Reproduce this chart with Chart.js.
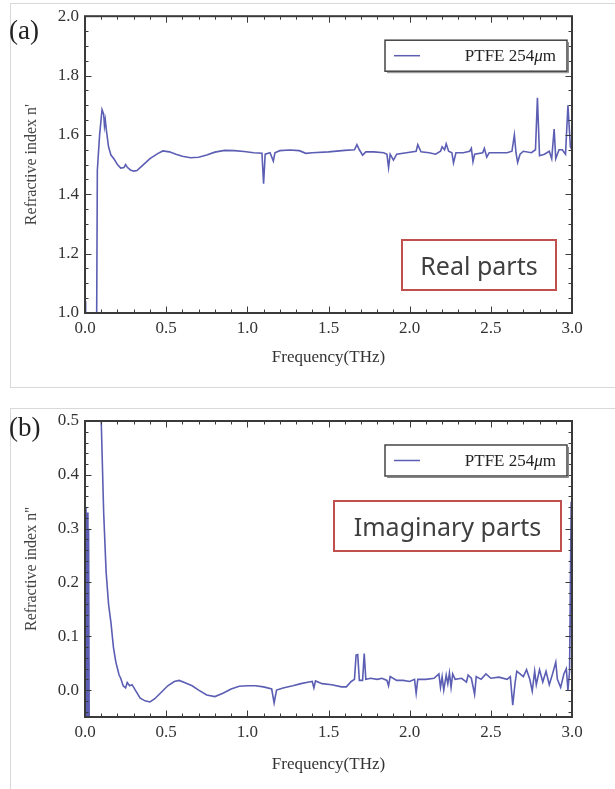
<!DOCTYPE html>
<html>
<head>
<meta charset="utf-8">
<script src="https://cdn.jsdelivr.net/npm/chart.js@4.4.1/dist/chart.umd.min.js"></script>
<style>
  body { margin: 0; background: #fff; width: 615px; height: 789px; position: relative; overflow: hidden; font-family: "Liberation Serif", serif; }
  .panel { position: absolute; border: 1px solid #d9d9d9; }
  .tag { position: absolute; left: 9px; font-size: 27px; line-height: 27px; color: #222; }
  .note { position: absolute; box-sizing: border-box; border: 2px solid #c0504d; font-family: "Noto Sans", sans-serif; font-size: 25px; color: #3f3f3f; display: flex; align-items: center; justify-content: center; }
  canvas { position: absolute; left: 0; }
</style>
</head>
<body>
<div class="panel" style="left:10px; top:3px; width:640px; height:383px;"></div>
<div class="panel" style="left:10px; top:408px; width:640px; height:400px;"></div>

<canvas id="chartA" width="615" height="390" style="top:0px;"></canvas>
<canvas id="chartB" width="615" height="394" style="top:395px;"></canvas>

<div class="tag" style="top:17px;">(a)</div>
<div class="tag" style="top:414px;">(b)</div>
<div class="note" style="left:401px; top:239px; width:156px; height:52px;">Real parts</div>
<div class="note" style="left:333px; top:500px; width:229px; height:52px;">Imaginary parts</div>

<script>
// (a) real part n'
const freqA = [
  0.000, 0.004, 0.066, 0.072, 0.076, 0.090, 0.105, 0.115, 0.120, 0.125, 0.132, 0.145,
  0.160, 0.180, 0.200, 0.220, 0.240, 0.250, 0.262, 0.280, 0.300, 0.320, 0.350, 0.400,
  0.450, 0.480, 0.520, 0.560, 0.600, 0.650, 0.700, 0.750, 0.800, 0.860, 0.920, 0.980,
  1.040, 1.090, 1.100, 1.110, 1.140, 1.160, 1.170, 1.200, 1.260, 1.320, 1.360, 1.400,
  1.500, 1.600, 1.660, 1.675, 1.690, 1.710, 1.730, 1.780, 1.840, 1.860, 1.870, 1.880,
  1.900, 1.920, 1.980, 2.040, 2.050, 2.070, 2.120, 2.160, 2.190, 2.200, 2.215, 2.225,
  2.240, 2.260, 2.270, 2.285, 2.330, 2.370, 2.380, 2.390, 2.400, 2.450, 2.460, 2.475,
  2.490, 2.550, 2.600, 2.630, 2.645, 2.655, 2.665, 2.680, 2.700, 2.750, 2.775, 2.787,
  2.800, 2.830, 2.860, 2.875, 2.890, 2.900, 2.920, 2.940, 2.960, 2.975, 2.990, 3.000
];
const nReal = [
  1.040, 0.500, 0.500, 1.000, 1.480, 1.600, 1.685, 1.670, 1.630, 1.650, 1.615, 1.560,
  1.532, 1.518, 1.500, 1.488, 1.490, 1.500, 1.490, 1.482, 1.478, 1.480, 1.495, 1.520,
  1.538, 1.546, 1.543, 1.535, 1.528, 1.523, 1.525, 1.532, 1.542, 1.548, 1.547, 1.544,
  1.540, 1.538, 1.436, 1.535, 1.540, 1.512, 1.540, 1.547, 1.549, 1.547, 1.538, 1.540,
  1.543, 1.548, 1.550, 1.567, 1.550, 1.532, 1.543, 1.543, 1.540, 1.535, 1.490, 1.535,
  1.515, 1.535, 1.540, 1.545, 1.567, 1.543, 1.540, 1.535, 1.545, 1.560, 1.550, 1.570,
  1.545, 1.540, 1.506, 1.540, 1.540, 1.545, 1.555, 1.510, 1.535, 1.540, 1.555, 1.525,
  1.540, 1.540, 1.540, 1.545, 1.600, 1.540, 1.507, 1.535, 1.545, 1.540, 1.550, 1.725,
  1.530, 1.535, 1.545, 1.520, 1.620, 1.520, 1.550, 1.550, 1.535, 1.700, 1.560, 1.550
];

// (b) imaginary part n'' (null = gap in the measured trace)
const freqB = [
  0.000, 0.006, 0.010, 0.014, 0.018, 0.022, 0.026, 0.030, 0.096, 0.100, 0.115,
  0.130, 0.145, 0.160, 0.175, 0.190, 0.200, 0.210, 0.220, 0.235, 0.250, 0.260, 0.275,
  0.290, 0.310, 0.340, 0.370, 0.400, 0.430, 0.470, 0.510, 0.550, 0.580, 0.620, 0.660,
  0.700, 0.750, 0.800, 0.850, 0.900, 0.950, 1.000, 1.050, 1.100, 1.150, 1.165, 1.180,
  1.220, 1.280, 1.330, 1.380, 1.400, 1.410, 1.420, 1.460, 1.520, 1.580, 1.610, 1.640,
  1.660, 1.670, 1.680, 1.690, 1.710, 1.720, 1.730, 1.760, 1.800, 1.830, 1.860, 1.870,
  1.880, 1.920, 1.960, 2.000, 2.030, 2.040, 2.050, 2.100, 2.150, 2.180, 2.190, 2.200,
  2.210, 2.225, 2.235, 2.245, 2.255, 2.265, 2.280, 2.320, 2.350, 2.360, 2.380, 2.400,
  2.410, 2.440, 2.470, 2.500, 2.550, 2.600, 2.620, 2.635, 2.650, 2.660, 2.680, 2.700,
  2.720, 2.740, 2.755, 2.770, 2.780, 2.800, 2.820, 2.840, 2.860, 2.880, 2.900, 2.910,
  2.930, 2.950, 2.965, 2.975, 2.985, 2.995, 3.000
];
const nImag = [
  -0.100, 0.340, -0.100, 0.330, -0.100, 0.300, -0.080, null, 0.900, 0.500, 0.330,
  0.220, 0.160, 0.125, 0.080, 0.052, 0.040, 0.028, 0.022, 0.008, 0.004, 0.014, 0.008,
  0.010, 0.000, -0.015, -0.020, -0.022, -0.016, -0.004, 0.008, 0.016, 0.018, 0.013, 0.008,
  0.000, -0.009, -0.012, -0.006, 0.002, 0.007, 0.008, 0.008, 0.006, 0.002, -0.024, 0.000,
  0.004, 0.008, 0.012, 0.015, 0.016, 0.004, 0.017, 0.012, 0.010, 0.006, 0.006, 0.016,
  0.020, 0.065, 0.066, 0.018, 0.018, 0.068, 0.020, 0.022, 0.020, 0.022, 0.018, 0.008,
  0.025, 0.018, 0.018, 0.016, 0.020, -0.006, 0.020, 0.020, 0.022, 0.030, 0.005, 0.025,
  0.000, 0.028, 0.012, 0.032, 0.005, 0.030, 0.020, 0.022, 0.015, 0.028, 0.022, -0.008,
  0.025, 0.020, 0.030, 0.022, 0.024, 0.020, 0.025, -0.028, 0.015, 0.035, 0.030, 0.025,
  0.038, 0.020, -0.002, 0.035, 0.010, 0.038, 0.015, 0.035, 0.010, 0.030, 0.052, 0.020,
  0.005, 0.030, 0.040, 0.000, 0.035, 0.350, -0.040
];

const xTicks = [0.0, 0.5, 1.0, 1.5, 2.0, 2.5, 3.0];
const yTicksA = [1.0, 1.2, 1.4, 1.6, 1.8, 2.0];
const yTicksB = [0.0, 0.1, 0.2, 0.3, 0.4, 0.5];
const seriesLabel = "PTFE 254μm";
const lineColor = "#5b5eb3";
const serif = "Liberation Serif";

// frame with inward ticks on all four sides + legend box, like Mathematica
const frameTicks = {
  id: "frameTicks",
  afterDatasetsDraw(chart, args, opts) {
    const { ctx, chartArea: a } = chart;
    const xs = chart.scales.x, ys = chart.scales.y;
    ctx.save();
    ctx.strokeStyle = "#3a3a3a";
    ctx.lineWidth = 1;
    const seg = (x1, y1, x2, y2) => {
      ctx.beginPath(); ctx.moveTo(x1, y1); ctx.lineTo(x2, y2); ctx.stroke();
    };
    const markX = (v, len) => {
      const px = Math.round(xs.getPixelForValue(v)) + 0.5;
      seg(px, a.bottom, px, a.bottom - len);
      seg(px, a.top, px, a.top + len);
    };
    const markY = (v, len) => {
      const py = Math.round(ys.getPixelForValue(v)) + 0.5;
      seg(a.left, py, a.left + len, py);
      seg(a.right, py, a.right - len, py);
    };
    for (let i = 0; i <= Math.round((xs.max - xs.min) / opts.xMinor); i++) {
      markX(xs.min + i * opts.xMinor, 3.5);
    }
    const y0 = Math.ceil(ys.min / opts.yMinor - 1e-6);
    const y1 = Math.floor(ys.max / opts.yMinor + 1e-6);
    for (let i = y0; i <= y1; i++) markY(i * opts.yMinor, 3.5);
    xTicks.forEach((v) => markX(v, 6.5));
    opts.yMajor.forEach((v) => markY(v, 6.5));

    ctx.lineWidth = 2;
    ctx.strokeRect(a.left, a.top, a.right - a.left, a.bottom - a.top);

    // legend
    const ds = chart.data.datasets[0];
    const lx = a.right - 187, ly = a.top + 24, lw = 182, lh = 31;
    ctx.fillStyle = "#fff";
    ctx.fillRect(lx, ly, lw, lh);
    ctx.strokeStyle = "#444";
    ctx.lineWidth = 1.5;
    ctx.strokeRect(lx, ly, lw, lh);
    ctx.strokeStyle = "#888";
    ctx.lineWidth = 1;
    seg(lx + lw + 1.5, ly + 2, lx + lw + 1.5, ly + lh + 1.5);
    seg(lx + 2, ly + lh + 1.5, lx + lw + 1.5, ly + lh + 1.5);
    ctx.strokeStyle = ds.borderColor;
    ctx.lineWidth = 1.5;
    seg(lx + 9, ly + lh / 2, lx + 35, ly + lh / 2);
    const parts = ds.label.split("μ");
    const fs = "17px '" + serif + "'";
    const fi = "italic 17px '" + serif + "'";
    ctx.fillStyle = "#222";
    ctx.textBaseline = "middle";
    ctx.font = fs;
    const w1 = ctx.measureText(parts[0]).width;
    const w3 = ctx.measureText(parts[1]).width;
    ctx.font = fi;
    const w2 = ctx.measureText("μ").width;
    const tx = lx + lw - 11 - (w1 + w2 + w3);
    const ty = ly + lh / 2 + 1;
    ctx.font = fs;
    ctx.fillText(parts[0], tx, ty);
    ctx.font = fi;
    ctx.fillText("μ", tx + w1, ty);
    ctx.font = fs;
    ctx.fillText(parts[1], tx + w1 + w2, ty);
    ctx.restore();
  },
};

function makePanel(id, freq, values, o) {
  return new Chart(document.getElementById(id), {
    type: "scatter",
    data: {
      datasets: [
        {
          label: seriesLabel,
          data: freq.map((f, i) => ({ x: f, y: values[i] })),
          showLine: true,
          spanGaps: false,
          borderColor: lineColor,
          borderWidth: 1.6,
          pointRadius: 0,
          tension: 0,
          fill: false,
        },
      ],
    },
    options: {
      responsive: false,
      animation: false,
      events: [],
      layout: { padding: { top: o.top, right: 43, left: 0, bottom: 0 } },
      plugins: {
        legend: { display: false },
        tooltip: { enabled: false },
        frameTicks: { xMinor: 0.1, yMinor: o.yMinor, yMajor: o.yTicks },
      },
      scales: {
        x: {
          type: "linear",
          min: 0,
          max: 3,
          afterBuildTicks: (s) => { s.ticks = xTicks.map((v) => ({ value: v })); },
          afterFit: (s) => { s.height = o.xHeight; },
          grid: { display: false, drawTicks: false },
          border: { display: false },
          ticks: {
            padding: 5,
            color: "#333",
            maxRotation: 0,
            autoSkip: false,
            font: { family: serif, size: 17 },
            callback: (v) => v.toFixed(1),
          },
          title: {
            display: true,
            text: "Frequency(THz)",
            color: "#333",
            font: { family: serif, size: 17 },
            padding: { top: 0, bottom: o.titlePad },
          },
        },
        y: {
          type: "linear",
          min: o.yMin,
          max: o.yMax,
          afterBuildTicks: (s) => { s.ticks = o.yTicks.map((v) => ({ value: v })); },
          afterFit: (s) => { s.width = 85; },
          grid: { display: false, drawTicks: false },
          border: { display: false },
          ticks: {
            padding: 6,
            color: "#333",
            font: { family: serif, size: 17 },
            callback: (v) => v.toFixed(1),
          },
          title: {
            display: true,
            text: o.yTitle,
            color: "#444",
            font: { family: serif, size: 16 },
            padding: { top: 22, bottom: 0 },
          },
        },
      },
    },
    plugins: [frameTicks],
  });
}

makePanel("chartA", freqA, nReal, {
  top: 15, xHeight: 77, titlePad: 22,
  yMin: 1.0, yMax: 2.0, yTicks: yTicksA, yMinor: 0.05,
  yTitle: "Refractive index n'",
});

makePanel("chartB", freqB, nImag, {
  top: 26, xHeight: 72, titlePad: 14,
  yMin: -0.05, yMax: 0.5, yTicks: yTicksB, yMinor: 0.02,
  yTitle: "Refractive index n''",
});
</script>
</body>
</html>
